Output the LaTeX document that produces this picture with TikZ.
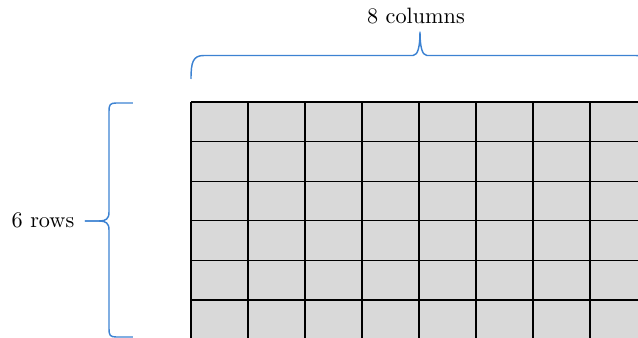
\documentclass[tikz,border=0pt]{standalone}
\definecolor{bracecol}{HTML}{3C82D2}
\definecolor{cellgray}{HTML}{D9D9D9}
\begin{document}
\begin{tikzpicture}[x=0.45pt,y=-0.45pt,
  bracestyle/.style={draw=bracecol, line width=0.65pt, line join=round},
  gridline/.style={draw=black, line width=0.6pt},
  lbl/.style={inner sep=0pt, font=\normalsize}]
\useasboundingbox (0,0) rectangle (638,338);
\begin{scope}
\clip (0,0) rectangle (638,338);
\coordinate (gNW) at (191,102);
\coordinate (gSE) at (647,339.6);
\fill[cellgray] (gNW) rectangle (gSE);
\foreach \i in {0,...,8} {
  \draw[gridline] ({191+57*\i},102) -- ({191+57*\i},339.6);
}
\foreach \j in {0,...,6} {
  \draw[gridline] (191,{102+39.6*\j}) -- (647,{102+39.6*\j});
}
% top brace
\coordinate (topL) at (191,79);
\coordinate (topTip) at (420,32);
\coordinate (topR) at (649,79);
\draw[bracestyle] (topL) .. controls (191,62) and (193,55.5) .. (204,55.5) -- (413,55.5)
   .. controls (418,55.5) and (420,46) .. (topTip)
   .. controls (420,46) and (422,55.5) .. (427,55.5) -- (636,55.5)
   .. controls (647,55.5) and (649,62) .. (topR);
% left brace
\coordinate (leftT) at (133,103);
\coordinate (leftTip) at (85,221);
\coordinate (leftB) at (133,337);
\draw[bracestyle] (leftT) -- (116,103) .. controls (110,103) and (109,105) .. (109,111) -- (109,212)
   .. controls (109,219) and (106,221) .. (99,221) -- (leftTip);
\draw[bracestyle] (leftTip) -- (99,221) .. controls (106,221) and (109,223) .. (109,230) -- (109,329)
   .. controls (109,335) and (110,337) .. (116,337) -- (leftB);
\end{scope}
\node[lbl] (cols) at (416,16) {8 columns};
\node[lbl] (rows) at (43,220) {6 rows};
\end{tikzpicture}
\end{document}
